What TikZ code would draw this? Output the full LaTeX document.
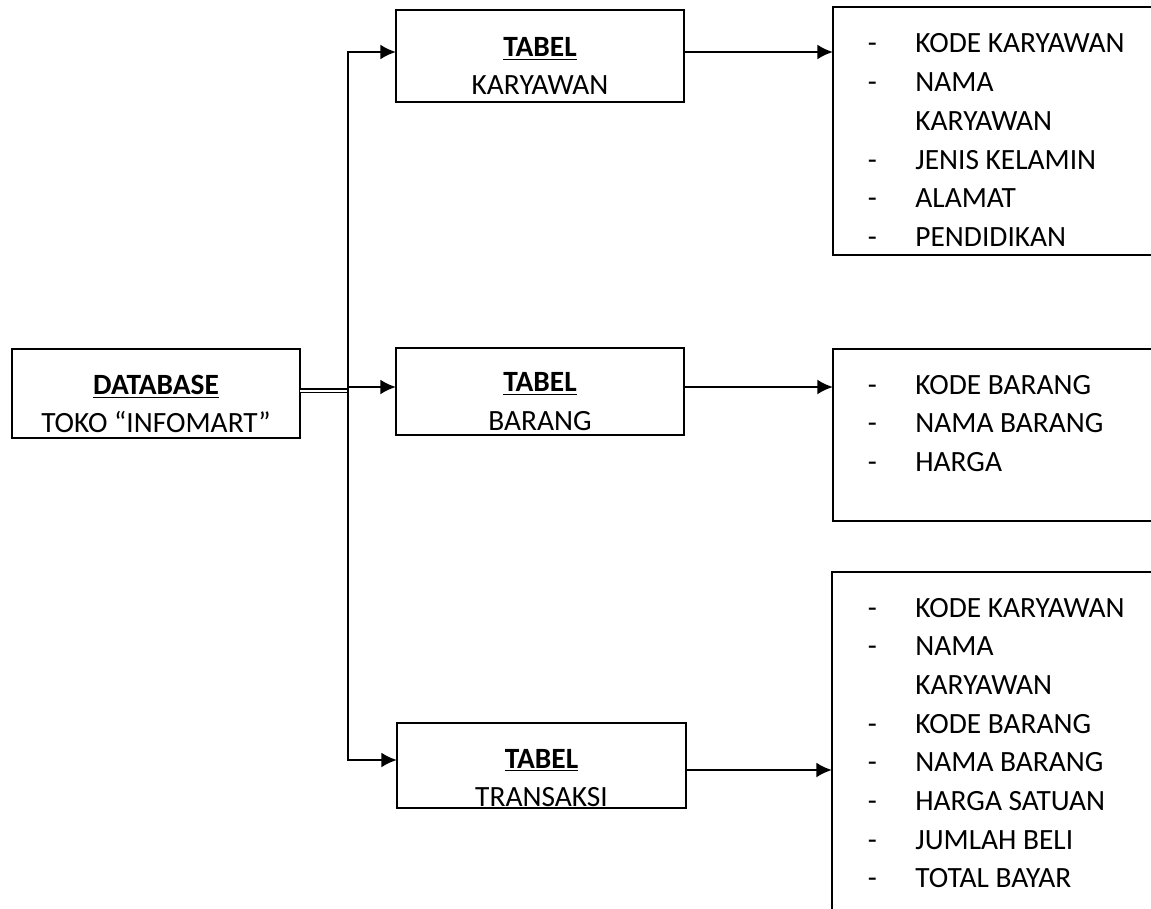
\documentclass[tikz,border=0pt]{standalone}
\usepackage{fontspec}
\setmainfont{Carlito}
\usetikzlibrary{arrows.meta}

\newcommand{\itm}[1]{\makebox[23.75pt][l]{-}#1}
\newcommand{\gap}{\hspace*{23.75pt}}

\tikzset{
  tabbox/.style={draw, line width=1.4pt, inner sep=0pt, outer sep=0pt, minimum width=144pt},
  listbox/.style={draw, line width=1.4pt, inner sep=0pt, outer sep=0pt, anchor=north west, minimum width=190pt},
  boxtext/.style={align=center, inner sep=0pt},
  listtext/.style={anchor=base west, inner sep=0pt},
  arr/.style={->, line width=1.3pt},
}

\begin{document}
\begin{tikzpicture}[>={Latex[length=7.8pt,width=7.5pt]}, x=0.5pt, y=-0.5pt, font=\fontsize{14.7}{19.35}\selectfont]
\useasboundingbox (0,0) rectangle (1151,909);
\clip (0,0) rectangle (1151,909);

% database
\node[tabbox, minimum height=44.5pt] (db) at (156,393.5) {};
\node[boxtext] (dbt) at (156,404) {\underline{\textbf{DATABASE}}\\TOKO “INFOMART”};

% tabel
\node[tabbox, minimum height=46pt] (tk) at (540,56) {};
\node[boxtext] (tkt) at (540,66) {\underline{\textbf{TABEL}}\\KARYAWAN};
\node[tabbox, minimum height=43.5pt] (tb) at (540,391.5) {};
\node[boxtext] (tbt) at (540,401.5) {\underline{\textbf{TABEL}}\\BARANG};
\node[tabbox, minimum width=144.5pt, minimum height=42.5pt] (tt) at (541.5,765.5) {};
\node[boxtext] (ttt) at (541.5,778) {\underline{\textbf{TABEL}}\\TRANSAKSI};

% field lists
\node[listbox, minimum height=124pt] (lk) at (833,7) {};
\node[listtext] (lkt) at (867.5,53) {\begin{tabular}[t]{@{}l@{}}
\itm{KODE KARYAWAN}\\ \itm{NAMA}\\ \gap KARYAWAN\\ \itm{JENIS KELAMIN}\\ \itm{ALAMAT}\\ \itm{PENDIDIKAN}
\end{tabular}};
\node[listbox, minimum height=86pt] (lb) at (833,349) {};
\node[listtext] (lbt) at (867.5,394) {\begin{tabular}[t]{@{}l@{}}
\itm{KODE BARANG}\\ \itm{NAMA BARANG}\\ \itm{HARGA}
\end{tabular}};
\node[listbox, minimum height=194pt] (lt) at (832,572) {};
\node[listtext] (ltt) at (867.5,617) {\begin{tabular}[t]{@{}l@{}}
\itm{KODE KARYAWAN}\\ \itm{NAMA}\\ \gap KARYAWAN\\ \itm{KODE BARANG}\\ \itm{NAMA BARANG}\\ \itm{HARGA SATUAN}\\ \itm{JUMLAH BELI}\\ \itm{TOTAL BAYAR}
\end{tabular}};

% connectors
\coordinate (jt) at (348,52);
\coordinate (jm) at (348,387);
\coordinate (jd) at (348,390.5);
\coordinate (jb) at (348,760);
\coordinate (jr) at (700,770);

\draw[double, line width=0.55pt, double distance=1pt] (db.east |- jd) -- (jd);
\draw[arr] (jb) -- (jt) -- (tk.west |- jt);
\draw[arr] (jt) -- (jb) -- (tt.west |- jb);
\draw[arr] (jm) -- (tb.west |- jm);

\draw[arr] (tk.east |- jt) -- (lk.west |- jt);
\draw[arr] (tb.east |- jm) -- (lb.west |- jm);
\draw[arr] (tt.east |- jr) -- (lt.west |- jr);

\end{tikzpicture}
\end{document}
